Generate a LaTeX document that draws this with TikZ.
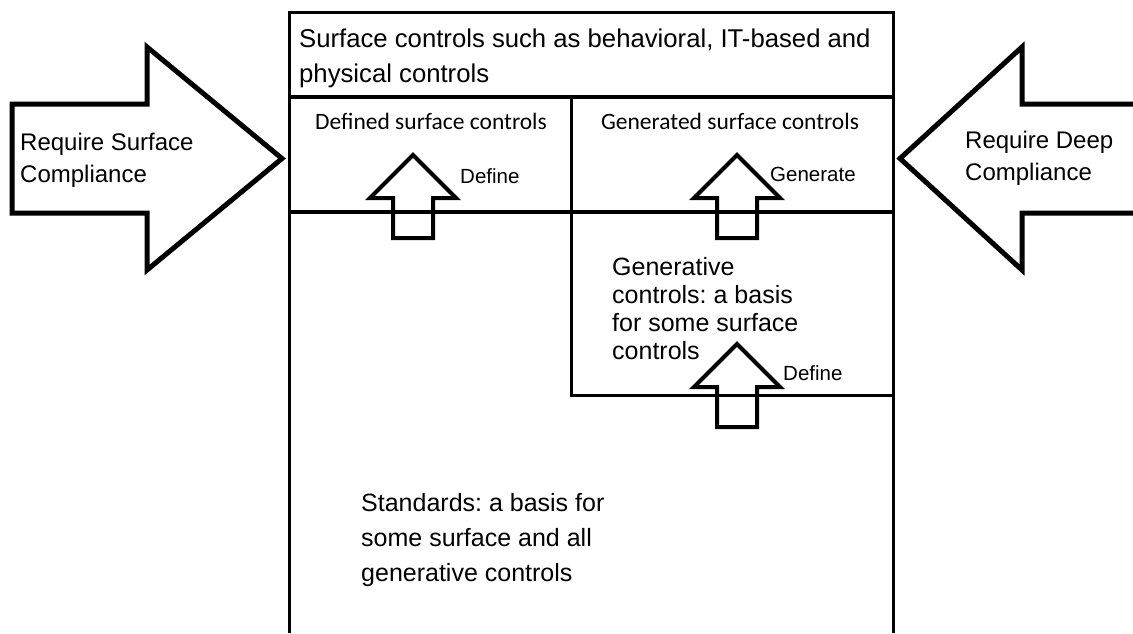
\documentclass[tikz,border=0pt]{standalone}
\usepackage{fontspec}
\setmainfont{Liberation Sans}
\newfontfamily\calfont{Carlito}
\usetikzlibrary{positioning}
\frenchspacing

\tikzset{
    boxline/.style={line width=3pt},
    rowline/.style={line width=4.5pt},
    bigarrow/.style={line width=5pt},
    blockarrow/.style={line width=4pt},
    sidetext/.style={font=\fontsize{24}{32}\selectfont, align=left, anchor=base west, inner sep=0pt},
    bodytext/.style={font=\fontsize{25}{35}\selectfont, align=left, anchor=base west, inner sep=0pt},
    celltext/.style={font=\calfont\fontsize{23.5}{28}\selectfont, anchor=base, inner sep=0pt},
    verbtext/.style={font=\fontsize{20.5}{24}\selectfont, anchor=base west, inner sep=0pt}
}

\begin{document}
\begin{tikzpicture}[x=1pt, y=-1pt]

            \useasboundingbox[fill=white] (0,0) rectangle (1133,633);

            % outer frame, open at the bottom
            \draw[boxline] (289,633) -- (289,12) -- (893,12) -- (893,633);
            \draw[rowline] (289,97) -- (893,97);
            \draw[rowline] (289,212) -- (893,212);
            \draw[boxline] (571,97) -- (571,395) -- (893,395);

            % big side arrows
            \draw[bigarrow] (12,104) -- (147,104) -- (147,47) -- (282,158.5)
                -- (147,270) -- (147,213) -- (12,213) -- cycle;
            \draw[bigarrow] (1133,104) -- (1022,104) -- (1022,47) -- (900,158.5)
                -- (1022,270) -- (1022,213) -- (1133,213);

            % small up arrows
            \draw[blockarrow] (413,155) -- ++(43,43) -- ++(-23,0) -- ++(0,40) -- ++(-40,0)
                -- ++(0,-40) -- ++(-23,0) -- cycle;
            \draw[blockarrow] (737,155) -- ++(43,43) -- ++(-23,0) -- ++(0,40) -- ++(-40,0)
                -- ++(0,-40) -- ++(-23,0) -- cycle;
            \draw[blockarrow] (737,344) -- ++(43,43) -- ++(-23,0) -- ++(0,40) -- ++(-40,0)
                -- ++(0,-40) -- ++(-23,0) -- cycle;

            % texts (multi-line nodes sit on their last baseline)
            \node[sidetext] (ReqSurface) at (20,182) {Require Surface\\Compliance};
            \node[sidetext] (ReqDeep) at (965,180) {Require Deep\\Compliance};
            \node[bodytext, font=\fontsize{25.7}{35}\selectfont] (Surface) at (299,82)
                {Surface controls such as behavioral, IT-based and\\physical controls};
            \node[celltext] (Defined) at (431,129) {Defined surface controls};
            \node[celltext] (Generated) at (730,129) {Generated surface controls};
            \node[verbtext] (Define1) at (460,183) {Define};
            \node[verbtext] (Generate) at (770,181) {Generate};
            \node[verbtext] (Define2) at (783,380) {Define};
            \node[bodytext, font=\fontsize{25}{28}\selectfont] (Generative) at (612,359)
                {Generative\\controls: a basis\\for some surface\\controls};
            \node[bodytext] (Standards) at (361,581)
                {Standards: a basis for\\some surface and all\\generative controls};
        \end{tikzpicture}
\end{document}
